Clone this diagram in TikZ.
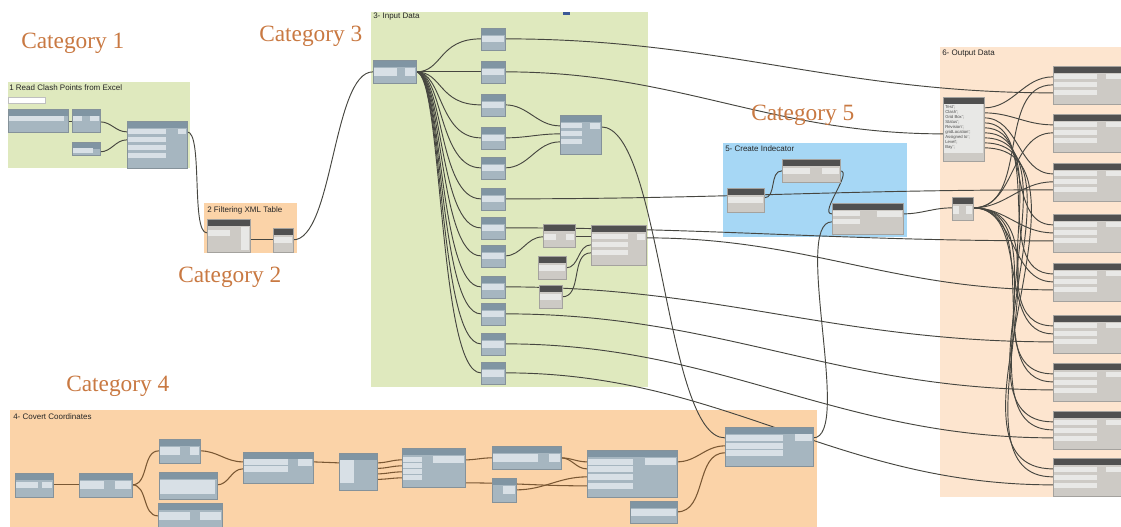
\documentclass[tikz,border=0pt]{standalone}
\usepackage{fontspec}
\setmainfont{Liberation Serif}
\setsansfont{Liberation Sans}
\usetikzlibrary{calc,fit}
\pgfdeclarelayer{grp}
\pgfdeclarelayer{wires}
\pgfsetlayers{grp,wires,main}
\definecolor{grpgreen}{RGB}{223,233,190}
\definecolor{grporange}{RGB}{251,211,168}
\definecolor{grppeach}{RGB}{253,229,207}
\definecolor{grpblue}{RGB}{166,215,245}
\definecolor{cathue}{RGB}{201,121,66}
\definecolor{bhdr}{RGB}{128,149,163}
\definecolor{bbody}{RGB}{166,182,192}
\definecolor{bfield}{RGB}{216,224,230}
\definecolor{dhdr}{RGB}{80,80,80}
\definecolor{dbody}{RGB}{205,202,197}
\definecolor{dfield}{RGB}{232,232,230}
\definecolor{wirec}{RGB}{70,70,64}
\definecolor{wirebr}{RGB}{122,88,52}
\definecolor{bluemark}{RGB}{58,88,150}
\tikzset{
  grpbox/.style={draw=none, fill=#1, inner sep=0pt},
  glbl/.style={font=\sffamily\fontsize{6}{7}\selectfont, anchor=north west, inner sep=0pt, text=black!85},
  cat/.style={font=\fontsize{17.5}{20}\selectfont, text=cathue, anchor=west, inner sep=0pt},
  bnode/.style={fit={#1}, inner sep=0pt, fill=bbody, draw=bbody!80!black, line width=0.2pt,
    path picture={\fill[bhdr] (path picture bounding box.north west) rectangle ([yshift=-5pt]path picture bounding box.north east);}},
  dnode/.style={fit={#1}, inner sep=0pt, fill=dbody, draw=dbody!80!black, line width=0.2pt,
    path picture={\fill[dhdr] (path picture bounding box.north west) rectangle ([yshift=-5.5pt]path picture bounding box.north east);}},
  bf/.style={fill=bfield},
  df/.style={fill=dfield},
  wire/.style={draw=wirec, line width=0.7pt},
  wireb/.style={draw=wirebr, line width=0.8pt},
  fan/.style={out=0, in=180, out distance=20pt, in distance=32pt},
  dw/.style={out=0, in=180}
}
\begin{document}
\begin{tikzpicture}[x=0.75pt, y=-0.75pt]
\useasboundingbox (0,0) rectangle (1121,527);

% ---------- groups ----------
\begin{pgfonlayer}{grp}
\fill[white] (0,0) rectangle (1121,527);
\node[grpbox=grpgreen, fit={(8,82)(190,168)}] (G1) {};
\node[grpbox=grporange, fit={(204,203)(297,253)}] (G2) {};
\node[grpbox=grpgreen, fit={(371,12)(648,387)}] (G3) {};
\node[grpbox=grporange, fit={(10,410)(817,527)}] (G4) {};
\node[grpbox=grpblue, fit={(723,143)(907,237)}] (G5) {};
\node[grpbox=grppeach, fit={(940,47)(1121,497)}] (G6) {};
\fill[bluemark] (563,12.5) rectangle (570,15.5);
\end{pgfonlayer}

\node[glbl] (g1t) at (9,84) {1 Read Clash Points from Excel};
\node[glbl] (g2t) at (207,206) {2 Filtering XML Table};
\node[glbl] (g3t) at (373,13) {3- Input Data};
\node[glbl] (g4t) at (13,413) {4- Covert Coordinates};
\node[glbl] (g5t) at (725,145) {5- Create Indecator};
\node[glbl] (g6t) at (942,50) {6- Output Data};

\node[cat] (cat1) at (21,43) {Category 1};
\node[cat] (cat3) at (259,36) {Category 3};
\node[cat] (cat2) at (178,277) {Category 2};
\node[cat] (cat4) at (66,386) {Category 4};
\node[cat] (cat5) at (751,115) {Category 5};

% ---------- nodes: group 1 ----------
\node[fit={(8,97)(45,103)}, inner sep=0pt, fill=white, draw=black!25, line width=0.2pt] (Lb) {};
\node[bnode={(8,109)(68,132)}] (A) {};
\node[bnode={(72,109)(100,132)}] (B) {};
\node[bnode={(72,142)(100,155)}] (C) {};
\node[bnode={(127,121)(187,168)}] (D) {};
\fill[bf] (9,116.5) rectangle (64,121.5);
\fill[bf] (73,116.5) rectangle (82,121.5);
\fill[bf] (90,116.5) rectangle (99,121.5);
\fill[bf] (73,148) rectangle (93,153);
\foreach \yy in {129.5,137.5,145.5,153.5} \fill[bf] (128,\yy) rectangle (166,\yy+5);
\fill[bf] (178,129.5) rectangle (186,134.5);

% ---------- group 2 ----------
\node[dnode={(207,219)(250,252)}] (E) {};
\node[dnode={(273,228)(293,252)}] (F) {};
\fill[df] (208,230) rectangle (230,236);
\fill[df] (241,227) rectangle (249,250);
\fill[df] (274,237) rectangle (292,243);

% ---------- group 3 ----------
\node[bnode={(373,60)(416,83)}] (G) {};
\fill[bf] (374,68) rectangle (397,76);
\fill[bf] (405,68) rectangle (415,76);
\foreach \k/\t in {1/28,2/61,3/94,4/127,5/157,6/188,7/217,8/245,9/276,10/303,11/333,12/362} {
  \node[bnode={(481,\t)(505,\t+22)}] (C\k) {};
  \fill[bf] (482,\t+8) rectangle (504,\t+14.5);
}
\node[bnode={(560,115)(601,154)}] (H) {};
\foreach \yy in {123.5,131.5,139.5} \fill[bf] (561,\yy) rectangle (582,\yy+5);
\fill[bf] (590,123.5) rectangle (600,129.5);
\node[dnode={(543,224)(575,247)}] (I) {};
\fill[df] (544,234) rectangle (556,240);
\fill[df] (566,234) rectangle (574,240);
\node[dnode={(591,225)(646,265)}] (J) {};
\foreach \yy in {234.5,242.5,250.5} \fill[df] (592,\yy) rectangle (628,\yy+5);
\fill[df] (637,234.5) rectangle (645,240.5);
\node[dnode={(538,256)(566,279)}] (K) {};
\fill[df] (539,265) rectangle (565,271);
\node[dnode={(539,285)(562,308)}] (L) {};
\fill[df] (540,294) rectangle (561,300);

% ---------- group 4 ----------
\node[bnode={(15,473)(53,497)}] (N1) {};
\fill[bf] (16,482) rectangle (38,488);
\fill[bf] (42,482) rectangle (52,488);
\node[bnode={(79,473)(132,497)}] (N2) {};
\fill[bf] (80,481) rectangle (104,489);
\fill[bf] (115,481) rectangle (131,489);
\node[bnode={(159,439)(200,463)}] (N3) {};
\fill[bf] (160,447) rectangle (180,455);
\fill[bf] (190,447) rectangle (199,455);
\node[bnode={(159,472)(217,499)}] (N4) {};
\fill[bf] (160,480) rectangle (215,494);
\node[bnode={(158,503)(222,527)}] (N5) {};
\fill[bf] (159,512) rectangle (190,520);
\fill[bf] (200,512) rectangle (221,520);
\node[bnode={(243,452)(313,483)}] (N6) {};
\fill[bf] (244,459) rectangle (288,465);
\fill[bf] (244,466) rectangle (288,472);
\fill[bf] (298,459) rectangle (312,466);
\node[bnode={(339,453)(377,490)}] (N7) {};
\fill[bf] (340,460) rectangle (354,483);
\node[bnode={(402,448)(465,487)}] (N8) {};
\foreach \yy in {457,463,469,475} \fill[bf] (403,\yy) rectangle (422,\yy+5);
\fill[bf] (433,456) rectangle (464,463);
\node[bnode={(492,446)(561,469)}] (N9) {};
\fill[bf] (493,454) rectangle (538,462);
\fill[bf] (549,454) rectangle (560,462);
\node[bnode={(492,478)(516,502)}] (N10) {};
\fill[bf] (503,486) rectangle (515,494);
\node[bnode={(587,450)(677,497)}] (N11) {};
\foreach \yy in {459,466,474,483} \fill[bf] (588,\yy) rectangle (633,\yy+6);
\fill[bf] (645,458) rectangle (676,465);
\node[bnode={(630,501)(677,523)}] (N12) {};
\fill[bf] (631,509) rectangle (676,516);
\node[bnode={(725,427)(813,466)}] (Z) {};
\foreach \yy in {435,443,450} \fill[bf] (726,\yy) rectangle (783,\yy+6);
\fill[bf] (795,434) rectangle (812,441);

% ---------- group 5 ----------
\node[dnode={(727,188)(764,212)}] (R) {};
\fill[df] (728,197) rectangle (763,203);
\node[dnode={(782,159)(840,182)}] (S) {};
\fill[df] (783,168) rectangle (810,174);
\fill[df] (822,168) rectangle (839,174);
\node[dnode={(832,203)(903,234)}] (T) {};
\fill[df] (833,211.5) rectangle (860,216.5);
\fill[df] (833,219.5) rectangle (860,224.5);
\fill[df] (877,211.5) rectangle (902,217);

% ---------- group 6 ----------
\node[dnode={(943,97)(984,161)}] (O0) {};
\fill[df] (944,104) rectangle (983,153);
\node[anchor=north west, align=left, inner sep=0pt, text=black!70,
  font=\sffamily\fontsize{3.2}{3.75}\selectfont] (O0t) at (945,105)
  {Test';\\Clash';\\Grid Box';\\Status';\\Revision';\\gridLocation';\\Assigned to';\\Level';\\Bay';};
\node[dnode={(952,197)(973,220)}] (P) {};
\fill[df] (953,206) rectangle (972,214);
\fill[dbody] (959,206) rectangle (966,214);
\foreach \k/\t in {1/66,2/114,3/163,4/214,5/263,6/315,7/363,8/411,9/458} {
  \node[dnode={(1053,\t)(1121,\t+38)}] (Q\k) {};
  \foreach \d in {8.5,16.5,24.5} \fill[df] (1054,\t+\d) rectangle (1097,\t+\d+5);
  \fill[df] (1106,\t+8.5) rectangle (1121,\t+13.5);
}

% ---------- wires ----------
\begin{pgfonlayer}{wires}
\draw[wire] ($(A.north east)+(0,13)$) -- ($(B.north west)+(0,13)$);
\draw[wire] ($(B.north east)+(0,13)$) to[dw] ($(D.north west)+(0,11)$);
\draw[wire] ($(C.north east)+(0,10)$) to[dw] ($(D.north west)+(0,19)$);
\draw[wire] ($(D.north east)+(0,11)$) to[dw, out distance=12pt, in distance=12pt] ($(E.north west)+(0,14)$);
\draw[wire] ($(E.north east)+(0,21)$) -- ($(F.north west)+(0,12)$);
\draw[wire] ($(F.north east)+(0,12)$) to[dw, out distance=30pt, in distance=30pt] ($(G.north west)+(0,12)$);
% group 3
\foreach \k in {1,...,12} \draw[wire] ($(G.north east)+(0,12)$) to[fan] ($(C\k.north west)+(0,11)$);
\draw[wire] ($(C3.north east)+(0,11)$) to[dw] ($(H.north west)+(0,11)$);
\draw[wire] ($(C4.north east)+(0,11)$) to[dw] ($(H.north west)+(0,19)$);
\draw[wire] ($(C5.north east)+(0,11)$) to[dw] ($(H.north west)+(0,27)$);
\draw[wire] ($(C8.north east)+(0,11)$) to[dw] ($(I.north west)+(0,13)$);
\draw[wire] ($(I.north east)+(0,13)$) to[dw] ($(J.north west)+(0,12)$);
\draw[wire] ($(K.north east)+(0,12)$) to[dw] ($(J.north west)+(0,20)$);
\draw[wire] ($(L.north east)+(0,12)$) to[dw] ($(J.north west)+(0,28)$);
\draw[wire] ($(H.north east)+(0,12)$) to[dw, out distance=45pt, in distance=45pt] ($(Z.north west)+(0,11)$);
% long wires to output
\draw[wire] ($(C1.north east)+(0,11)$) to[dw] ($(Q1.north west)+(0,27)$);
\draw[wire] ($(C2.north east)+(0,11)$) to[dw] ($(O0.north west)+(0,37)$);
\draw[wire] ($(C6.north east)+(0,11)$) to[dw] ($(Q3.north west)+(0,27)$);
\draw[wire] ($(C7.north east)+(0,11)$) to[dw] ($(Q4.north west)+(0,27)$);
\draw[wire] ($(J.north east)+(0,13)$) to[dw] ($(Q5.north west)+(0,27)$);
\draw[wire] ($(C9.north east)+(0,11)$) to[dw] ($(Q6.north west)+(0,27)$);
\draw[wire] ($(C10.north east)+(0,11)$) to[dw] ($(Q7.north west)+(0,27)$);
\draw[wire] ($(C11.north east)+(0,11)$) to[dw] ($(Q8.north west)+(0,27)$);
\draw[wire] ($(C12.north east)+(0,11)$) to[dw] ($(Q9.north west)+(0,27)$);
% group 5
\draw[wire] ($(R.north east)+(0,10)$) to[dw] ($(S.north west)+(0,12)$);
\draw[wire] ($(S.north east)+(0,12)$) to[dw, out distance=10pt, in distance=10pt] ($(T.north west)+(0,11)$);
\draw[wire] ($(Z.north east)+(0,11)$) to[dw, out distance=30pt, in distance=30pt] ($(T.north west)+(0,19)$);
\draw[wire] ($(T.north east)+(0,11)$) to[dw] ($(P.north west)+(0,11)$);
% group 6
\foreach \k in {1,...,9} {
  \draw[wire] ($(O0.north east)+(0,6+5*\k)$) to[dw] ($(Q\k.north west)+(0,11)$);
  \draw[wire] ($(P.north east)+(0,11)$) to[dw] ($(Q\k.north west)+(0,19)$);
}
% group 4
\draw[wireb] ($(N1.north east)+(0,12)$) -- ($(N2.north west)+(0,12)$);
\draw[wireb] ($(N2.north east)+(0,12)$) to[dw] ($(N3.north west)+(0,12)$);
\draw[wireb] ($(N2.north east)+(0,12)$) to[dw] ($(N5.north west)+(0,13)$);
\draw[wireb] ($(N3.north east)+(0,12)$) to[dw] ($(N6.north west)+(0,10)$);
\draw[wireb] ($(N4.north east)+(0,13)$) to[dw] ($(N6.north west)+(0,17)$);
\draw[wireb] ($(N6.north east)+(0,10)$) -- ($(N7.north west)+(0,10)$);
\foreach \k in {0,...,3} \draw[wireb] ($(N7.north east)+(0,10+5.5*\k)$) to[dw] ($(N8.north west)+(0,12+6*\k)$);
\draw[wireb] ($(N8.north east)+(0,12)$) to[dw] ($(N9.north west)+(0,12)$);
\draw[wireb] ($(N8.north east)+(0,35)$) to[dw] ($(N11.north west)+(0,36)$);
\draw[wireb] ($(N9.north east)+(0,12)$) to[dw] ($(N11.north west)+(0,12)$);
\draw[wireb] ($(N9.north east)+(0,12)$) to[dw] ($(N11.north west)+(0,19)$);
\draw[wireb] ($(N10.north east)+(0,12)$) to[dw] ($(N11.north west)+(0,27)$);
\draw[wireb] ($(N11.north east)+(0,12)$) to[dw] ($(Z.north west)+(0,19)$);
\draw[wireb] ($(N12.north east)+(0,11)$) to[dw] ($(Z.north west)+(0,26)$);
\end{pgfonlayer}
\end{tikzpicture}
\end{document}
